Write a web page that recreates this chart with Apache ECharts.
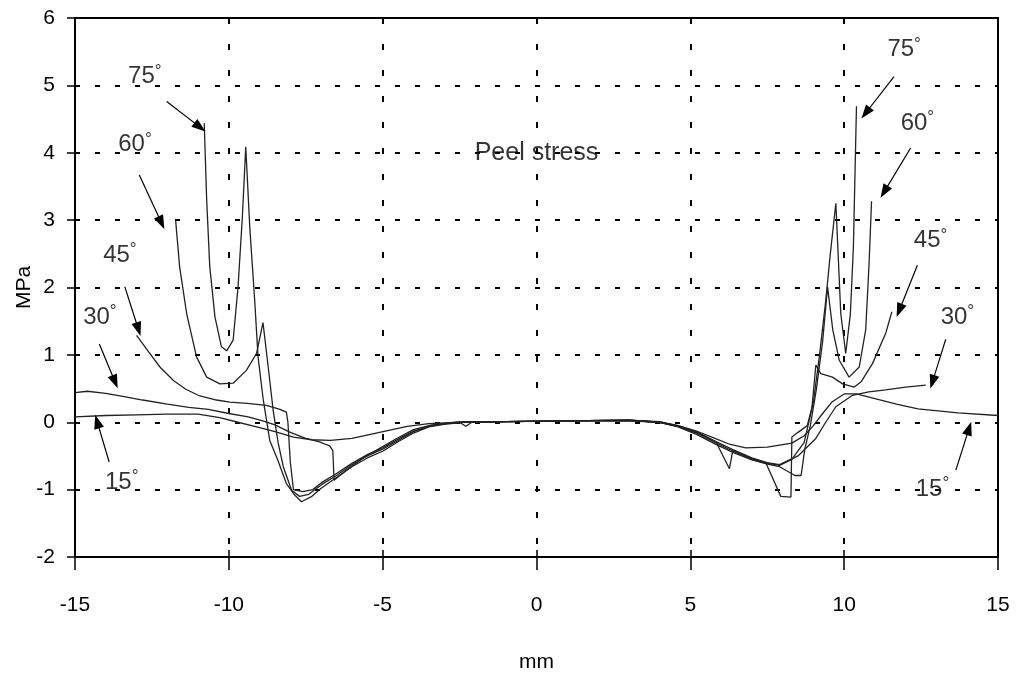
<!DOCTYPE html>
<html>
<head>
<meta charset="utf-8">
<script src="https://cdn.jsdelivr.net/npm/echarts@6/dist/echarts.min.js"></script>
<style>
  html, body { margin: 0; padding: 0; background: #fff; }
  #chart { width: 1020px; height: 679px; }
</style>
</head>
<body>
<div id="chart"></div>
<script>
// Peel stress along the bond line (mm) for five scarf angles, MPa
const deg15 = [
  [-15,0.08],[-14,0.10],[-13,0.11],[-12,0.12],[-11,0.12],[-10.3,0.07],[-9.7,0.0],[-9,-0.08],
  [-8.5,-0.14],[-7.9,-0.22],[-7.3,-0.26],[-6.7,-0.27],[-6,-0.24],[-5.4,-0.18],[-4.8,-0.12],
  [-4.2,-0.06],[-3.5,-0.02],[-2.5,0.0],[-1,0.01],[1,0.02],[3,0.02],[4,0.0],[4.6,-0.05],
  [5.2,-0.13],[5.8,-0.24],[6.3,-0.33],[6.8,-0.38],[7.5,-0.37],[8.3,-0.31],[8.7,-0.2],
  [9.0,-0.05],[9.3,0.13],[9.6,0.3],[10.0,0.42],[10.4,0.42],[11,0.35],[11.7,0.27],
  [12.4,0.2],[13.7,0.14],[15,0.10]
];
const deg30 = [
  [-15,0.44],[-14.6,0.46],[-14,0.43],[-13.4,0.38],[-12.8,0.33],[-12,0.27],[-11.3,0.22],
  [-10.67,0.19],[-10,0.13],[-9.37,0.08],[-8.9,0.02],[-8.5,-0.04],[-8.0,-0.15],[-7.5,-0.24],
  [-7.05,-0.29],[-6.85,-0.33],[-6.72,-0.35],[-6.62,-0.42],[-6.58,-0.86],[-6.2,-0.72],
  [-5.6,-0.52],[-5,-0.36],[-4.5,-0.23],[-4,-0.11],[-3.4,-0.04],[-2.6,0.0],[-1,0.01],
  [1,0.02],[3,0.03],[4,0.0],[4.6,-0.06],[5.2,-0.15],[5.8,-0.28],[6.4,-0.41],[7,-0.53],
  [7.5,-0.6],[7.9,-0.63],[8.5,-0.5],[9.08,-0.24],[9.4,0.0],[9.73,0.23],[10.27,0.4],
  [10.8,0.45],[11.35,0.48],[12,0.52],[12.65,0.55]
];
const deg45 = [
  [-13,1.29],[-12.6,1.04],[-12.24,0.82],[-11.8,0.62],[-11.4,0.49],[-10.94,0.39],[-10.4,0.33],
  [-9.97,0.30],[-9.4,0.28],[-8.78,0.25],[-8.34,0.19],[-8.13,0.15],[-8.08,0.0],[-8.0,-0.6],
  [-7.9,-1.0],[-7.6,-1.03],[-7.27,-1.0],[-7,-0.9],[-6.5,-0.76],[-6,-0.61],[-5.5,-0.48],
  [-5,-0.38],[-4.5,-0.25],[-4,-0.13],[-3.5,-0.06],[-3,-0.02],[-2.4,0.0],[-1,0.01],[1,0.02],
  [3,0.03],[4,0.01],[4.6,-0.05],[5.2,-0.14],[5.83,-0.29],[6.27,-0.69],[6.38,-0.42],
  [7,-0.54],[7.5,-0.61],[7.9,-0.64],[8.3,-0.55],[8.7,-0.3],[8.95,0.2],[9.08,0.85],
  [9.24,0.72],[9.62,0.67],[9.95,0.57],[10.32,0.52],[10.55,0.6],[10.92,0.87],[11.35,1.32],
  [11.55,1.64]
];
const deg60 = [
  [-11.73,3.0],[-11.6,2.31],[-11.37,1.61],[-11.05,0.97],[-10.72,0.67],[-10.29,0.57],
  [-9.86,0.58],[-9.43,0.77],[-9.1,1.02],[-8.89,1.48],[-8.72,0.82],[-8.56,0.18],[-8.4,-0.3],
  [-8.23,-0.66],[-7.96,-1.01],[-7.7,-1.1],[-7.4,-1.07],[-7,-0.93],[-6.5,-0.79],[-6,-0.63],
  [-5.5,-0.5],[-5,-0.4],[-4.5,-0.27],[-4,-0.14],[-3.5,-0.06],[-3,-0.02],[-2.5,0.0],
  [-2.3,-0.06],[-2.1,0.0],[-1,0.01],[1,0.02],[3,0.03],[4,0.0],[4.6,-0.06],[5.2,-0.16],
  [5.8,-0.3],[6.4,-0.43],[7,-0.55],[7.5,-0.62],[7.9,-0.66],[8.4,-0.79],[8.6,-0.79],
  [8.72,-0.4],[8.9,-0.05],[9.1,0.5],[9.3,1.2],[9.46,2.01],[9.63,1.37],[9.84,0.92],
  [10.16,0.67],[10.49,0.82],[10.7,1.37],[10.81,2.36],[10.89,3.28]
];
const deg75 = [
  [-10.8,4.44],[-10.72,3.3],[-10.62,2.31],[-10.45,1.56],[-10.24,1.12],[-10.07,1.06],
  [-9.86,1.22],[-9.7,2.01],[-9.56,3.05],[-9.45,4.09],[-9.32,2.9],[-9.16,1.81],[-9.05,0.97],
  [-8.88,0.33],[-8.67,-0.27],[-8.41,-0.56],[-8.13,-0.91],[-7.86,-1.08],[-7.64,-1.18],
  [-7.3,-1.1],[-7,-0.98],[-6.5,-0.82],[-6,-0.66],[-5.5,-0.53],[-5,-0.43],[-4.5,-0.29],
  [-4,-0.16],[-3.5,-0.07],[-3,-0.03],[-2.4,0.0],[-1,0.01],[1,0.02],[3,0.03],[4,0.0],
  [4.6,-0.07],[5.2,-0.18],[5.8,-0.32],[6.4,-0.45],[7,-0.56],[7.46,-0.61],[7.94,-1.1],
  [8.27,-1.11],[8.3,-0.22],[8.5,-0.15],[8.8,-0.05],[9.0,0.3],[9.2,1.0],[9.4,1.8],
  [9.55,2.5],[9.73,3.25],[9.89,1.61],[10.05,1.02],[10.2,1.6],[10.3,2.6],[10.4,4.69]
];

// Angle annotations: text, label position, arrow tail and arrow head (data units)
const angleNames = ['75','60','45','30','15','75','60','45','30','15'];
const labelPos = [
  [-12.73,5.13],[-13.05,4.12],[-13.54,2.48],[-14.19,1.56],[-13.48,-0.89],
  [11.95,5.53],[12.38,4.44],[12.81,2.70],[13.68,1.56],[12.87,-0.99]
];
const arrowTail = [
  [-12.02,4.76],[-12.91,3.67],[-13.38,2.01],[-14.21,1.16],[-13.89,-0.59],
  [11.62,5.13],[12.16,4.07],[12.38,2.33],[13.30,1.23],[13.63,-0.71]
];
const arrowHead = [
  [-10.94,4.38],[-12.19,2.96],[-12.94,1.38],[-13.70,0.60],[-14.28,0.01],
  [10.70,4.59],[11.30,3.42],[11.79,1.66],[12.87,0.60],[14.06,-0.09]
];
const titleText = 'Peel stress';
const titlePos = [0, 4.0];

const xTicks = { min: -15, max: 15, interval: 5 };
const yTicks = { min: -2, max: 6, interval: 1 };

const FONT = '"Liberation Sans", Arial, sans-serif';
const chart = echarts.init(document.getElementById('chart'), null, { renderer: 'canvas' });

const curves = [deg15, deg30, deg45, deg60, deg75].map(d => ({
  type: 'line',
  data: d,
  showSymbol: false,
  symbol: 'none',
  silent: true,
  z: 3,
  lineStyle: { color: '#222', width: 1.3 }
}));

const annotation = {
  type: 'scatter',
  symbolSize: 0,
  silent: true,
  z: 4,
  data: labelPos.map((p, i) => ({ value: p, name: angleNames[i] })),
  label: {
    show: true,
    position: 'inside',
    formatter: p => '{n|' + p.name + '}{d|°}',
    rich: {
      n: { fontSize: 24, fontFamily: FONT, color: '#000', lineHeight: 28 },
      d: { fontSize: 17, fontFamily: FONT, color: '#000', verticalAlign: 'top', lineHeight: 28, padding: [0, 0, 10, 0] }
    }
  },
  markLine: {
    silent: true,
    symbol: ['none', 'triangle'],
    symbolSize: [10, 14],
    label: { show: false },
    lineStyle: { color: '#000', width: 1.2, type: 'solid' },
    data: arrowTail.map((t, i) => [{ coord: t }, { coord: arrowHead[i] }])
  }
};

const title = {
  type: 'scatter',
  symbolSize: 0,
  silent: true,
  data: [{ value: titlePos, name: titleText }],
  label: {
    show: true, position: 'inside', formatter: p => p.name,
    fontSize: 25, fontFamily: FONT, color: '#000'
  }
};

chart.setOption({
  animation: false,
  backgroundColor: '#fff',
  grid: {
    left: 75, right: 22, top: 18, bottom: 122,
    containLabel: false, outerBoundsMode: 'none',
    show: true, borderColor: '#000', borderWidth: 2, backgroundColor: 'transparent'
  },
  xAxis: [{
    type: 'value', ...xTicks,
    axisLine: { onZero: false, lineStyle: { color: '#000', width: 2 } },
    axisTick: { length: 13, lineStyle: { color: '#000', width: 1.5 } },
    axisLabel: { margin: 38, fontSize: 21, color: '#000', fontFamily: FONT },
    splitLine: { show: true, lineStyle: { color: '#000', width: 2, type: [6, 20] } },
    name: 'mm', nameLocation: 'middle', nameGap: 95, nameMoveOverlap: false,
    nameTextStyle: { fontSize: 21, color: '#000', fontFamily: FONT }
  }, {
    type: 'value', ...xTicks, position: 'bottom',
    axisLine: { show: false, onZero: false },
    axisTick: { inside: true, length: 7, lineStyle: { color: '#000', width: 1.5 } },
    axisLabel: { show: false },
    splitLine: { show: false }
  }],
  yAxis: [{
    type: 'value', ...yTicks,
    axisLine: { show: true, onZero: false, lineStyle: { color: '#000', width: 2 } },
    axisTick: { show: true, length: 8, lineStyle: { color: '#000', width: 1.5 } },
    axisLabel: { margin: 20, fontSize: 21, color: '#000', fontFamily: FONT },
    splitLine: { show: true, lineStyle: { color: '#000', width: 2, type: [5, 15] } },
    name: 'MPa', nameLocation: 'middle', nameGap: 40, nameMoveOverlap: false,
    nameTextStyle: { fontSize: 21, color: '#000', fontFamily: FONT }
  }, {
    type: 'value', ...yTicks, position: 'left',
    axisLine: { show: false, onZero: false },
    axisTick: { show: true, inside: true, length: 5, lineStyle: { color: '#000', width: 1.5 } },
    axisLabel: { show: false },
    splitLine: { show: false }
  }],
  series: [...curves, annotation, title]
});
</script>
</body>
</html>
